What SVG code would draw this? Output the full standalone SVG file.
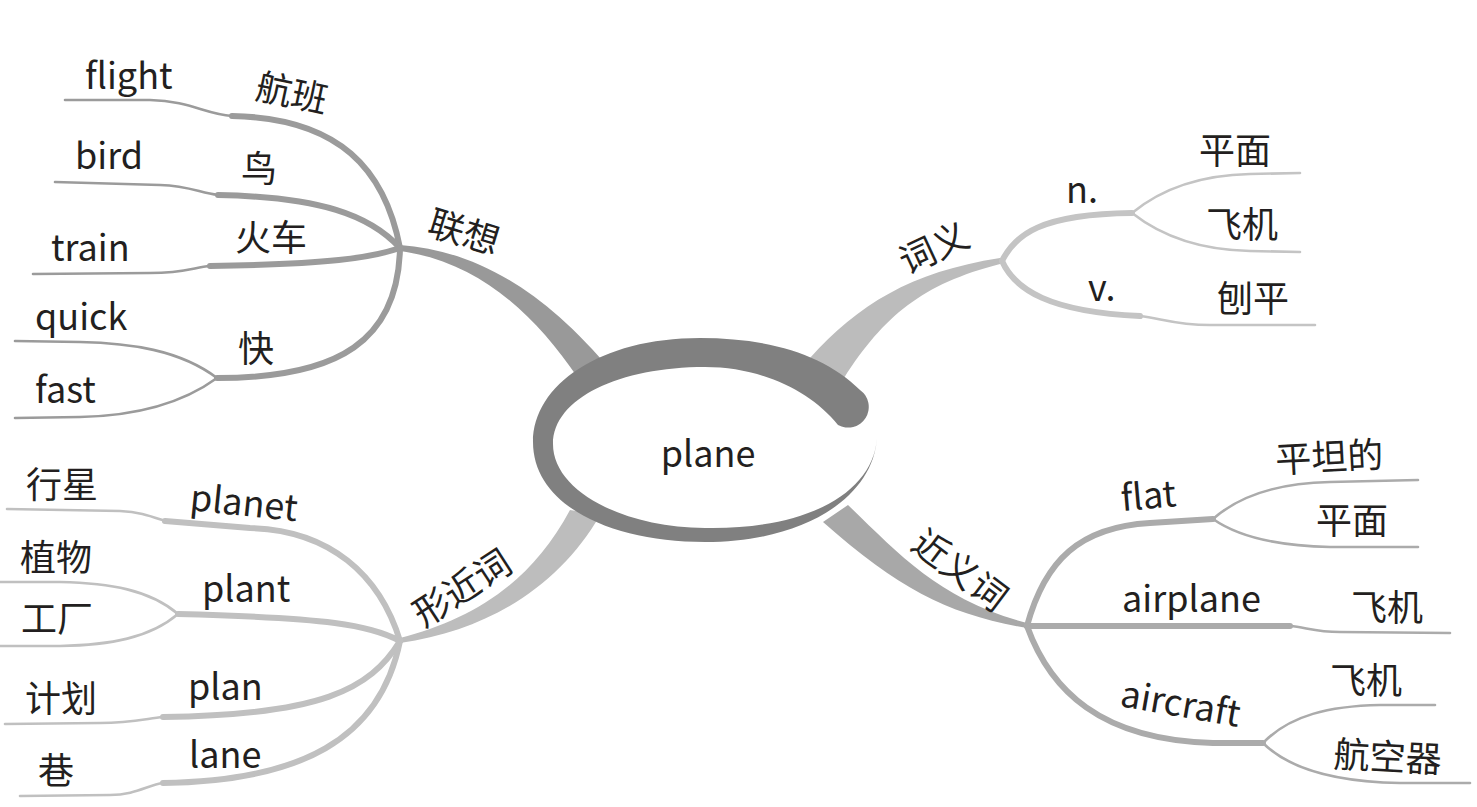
<svg xmlns="http://www.w3.org/2000/svg" width="1477" height="807" viewBox="0 0 1477 807">
<style>
text{font-family:"Noto Sans CJK SC","Noto Sans",sans-serif;font-size:36px;fill:#231f20}
.m{text-anchor:middle}
.b{fill:none;stroke-linecap:round;stroke-linejoin:round}
.w1{stroke-width:6}
.w2{stroke-width:2.6}
.g1{stroke:#9b9b9b}
.g2{stroke:#c4c4c4}
.g3{stroke:#c0c0c0}
.g4{stroke:#ababab}
</style>
<rect width="1477" height="807" fill="#fff"/>
<g id="connectors">
  <!-- main branches -->
  <path d="M400,245 C470,250 540,285 612,372 L578,378 C535,315 480,262 400,251 Z" fill="#999999"/>
  <path d="M810,358 C858,305 910,272 1000,258 L1000,264 C922,284 884,316 844,378 Z" fill="#bcbcbc"/>
  <path d="M400,638 C470,620 530,585 570,510 L600,515 C560,585 490,630 400,643 Z" fill="#bdbdbd"/>
  <path d="M848,505 C900,555 940,600 1027,623 L1027,628 C950,615 900,590 823,522 Z" fill="#a8a8a8"/>
  <!-- 联想 subtree -->
  <g class="b g1">
    <path class="w1" d="M400,248 C385,170 340,118 232,116"/>
    <path class="w2" d="M232,116 C205,114 190,101 150,100 L65,100"/>
    <path class="w1" d="M400,248 C370,215 320,197 218,195"/>
    <path class="w2" d="M218,195 C200,193 190,186 160,185 L55,182"/>
    <path class="w1" d="M400,248 C370,258 330,264 210,266"/>
    <path class="w2" d="M210,266 C195,267 185,273 150,273 L33,274"/>
    <path class="w1" d="M400,248 C398,340 340,378 217,378"/>
    <path class="w2" d="M217,378 C180,350 130,343 80,342 L15,341"/>
    <path class="w2" d="M217,378 C180,405 130,416 80,417 L15,418"/>
  </g>
  <!-- 词义 subtree -->
  <g class="b g2">
    <path class="w1" d="M1002,261 C1015,235 1040,214 1132,213"/>
    <path class="w2" d="M1132,213 C1160,190 1200,175 1250,174 L1300,173"/>
    <path class="w2" d="M1132,213 C1160,235 1200,250 1250,251 L1300,252"/>
    <path class="w1" d="M1002,261 C1015,290 1050,312 1140,316"/>
    <path class="w2" d="M1140,316 C1160,318 1175,325 1210,325 L1315,325"/>
  </g>
  <!-- 形近词 subtree -->
  <g class="b g3">
    <path class="w1" d="M400,641 C380,575 330,530 250,528 L165,521"/>
    <path class="w2" d="M165,521 C150,516 140,512 120,511 L7,509"/>
    <path class="w1" d="M400,641 C370,625 330,618 178,614"/>
    <path class="w2" d="M178,614 C150,590 110,583 60,582 L0,582"/>
    <path class="w2" d="M178,614 C150,638 110,645 60,646 L0,646"/>
    <path class="w1" d="M400,641 C370,690 320,715 163,717"/>
    <path class="w2" d="M163,717 C145,719 130,723 100,723 L5,724"/>
    <path class="w1" d="M400,641 C380,740 300,781 163,783"/>
    <path class="w2" d="M163,783 C148,785 135,795 110,795 L20,796"/>
  </g>
  <!-- 近义词 subtree -->
  <g class="b g4">
    <path class="w1" d="M1027,626 C1045,560 1080,527 1150,523 L1213,519"/>
    <path class="w2" d="M1213,519 C1240,495 1280,483 1330,482 L1418,480"/>
    <path class="w2" d="M1213,519 C1240,538 1280,546 1330,547 L1418,547"/>
    <path class="w1" d="M1027,626 L1290,626"/>
    <path class="w2" d="M1290,626 C1305,627 1315,632 1340,632 L1450,633"/>
    <path class="w1" d="M1027,626 C1050,690 1100,740 1213,743 L1263,743"/>
    <path class="w2" d="M1263,743 C1290,715 1330,706 1380,705 L1435,705"/>
    <path class="w2" d="M1263,743 C1290,770 1340,782 1400,783 L1470,783"/>
  </g>
</g>
<g id="center">
  <ellipse cx="714" cy="446" rx="161" ry="80" fill="#fff"/>
  <path d="M860,390 C825,355 770,338 700,338 C600,338 533,385 533,442 C533,505 610,542 705,542 C805,542 873,497 877,438 C873,494 805,530 705,528 C620,527 553,490 553,444 C553,398 620,367 705,367 C760,367 810,390 838,425 A20.7,20.7 0 0 0 860,390 Z" fill="#808080"/>
  <text class="m" x="708" y="467">plane</text>
</g>
<g id="n-lianxiang"><text class="m" transform="translate(464,232) rotate(17)" y="13">联想</text></g>
<g id="n-hangban"><text class="m" transform="translate(292,93) rotate(12)" y="13">航班</text></g>
<g id="n-flight"><text x="85" y="89">flight</text></g>
<g id="n-niao"><text x="241" y="182">鸟</text></g>
<g id="n-bird"><text x="75" y="169">bird</text></g>
<g id="n-huoche"><text x="235" y="251">火车</text></g>
<g id="n-train"><text x="51" y="261">train</text></g>
<g id="n-kuai"><text x="238" y="362">快</text></g>
<g id="n-quick"><text x="35" y="330">quick</text></g>
<g id="n-fast"><text x="35" y="403">fast</text></g>

<g id="n-ciyi"><text class="m" transform="translate(934,248) rotate(-25)" y="13">词义</text></g>
<g id="n-n"><text x="1066" y="203">n.</text></g>
<g id="n-pingmian1"><text x="1199" y="164">平面</text></g>
<g id="n-feiji1"><text x="1206" y="238">飞机</text></g>
<g id="n-v"><text x="1088" y="301">v.</text></g>
<g id="n-baoping"><text x="1217" y="312">刨平</text></g>

<g id="n-xingjinci"><text class="m" transform="translate(462,588) rotate(-33)" y="13">形近词</text></g>
<g id="n-xingxing"><text x="26" y="498">行星</text></g>
<g id="n-planet"><text transform="translate(189,510) rotate(6)">planet</text></g>
<g id="n-zhiwu"><text x="20" y="571">植物</text></g>
<g id="n-gongchang"><text x="21" y="632">工厂</text></g>
<g id="n-plant"><text x="202" y="602">plant</text></g>
<g id="n-jihua"><text x="25" y="712">计划</text></g>
<g id="n-plan"><text x="188" y="700">plan</text></g>
<g id="n-xiang"><text x="38" y="784">巷</text></g>
<g id="n-lane"><text x="189" y="768">lane</text></g>

<g id="n-jinyici"><text class="m" transform="translate(960,570) rotate(37)" y="13">近义词</text></g>
<g id="n-flat"><text transform="translate(1122,511) rotate(-5)">flat</text></g>
<g id="n-pingtande"><text transform="translate(1276,473) rotate(-3)">平坦的</text></g>
<g id="n-pingmian2"><text x="1316" y="534">平面</text></g>
<g id="n-airplane"><text x="1122" y="612">airplane</text></g>
<g id="n-feiji2"><text x="1351" y="621">飞机</text></g>
<g id="n-aircraft"><text transform="translate(1119,706) rotate(10)">aircraft</text></g>
<g id="n-feiji3"><text x="1330" y="694">飞机</text></g>
<g id="n-hangkongqi"><text transform="translate(1333,767) rotate(3)">航空器</text></g>
</svg>
